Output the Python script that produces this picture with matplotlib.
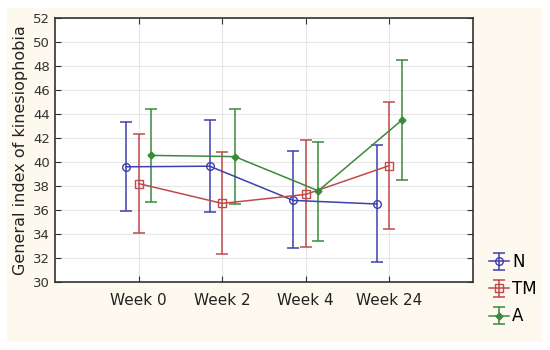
import numpy as np
import matplotlib.pyplot as plt
from matplotlib.patches import Rectangle

weeks = ["Week 0", "Week 2", "Week 4", "Week 24"]
groups = ["N", "TM", "A"]

n_mean = [39.6, 39.65, 36.8, 36.5]
n_low = [35.9, 35.8, 32.8, 31.7]
n_high = [43.3, 43.5, 40.9, 41.4]

tm_mean = [38.2, 36.55, 37.3, 39.7]
tm_low = [34.1, 32.3, 32.9, 34.4]
tm_high = [42.3, 40.8, 41.8, 45.0]

a_mean = [40.55, 40.45, 37.6, 43.5]
a_low = [36.7, 36.5, 33.4, 38.5]
a_high = [44.4, 44.4, 41.7, 48.5]

fig = plt.figure(figsize=(5.5, 3.5), dpi=100)
fig.patch.set_facecolor("white")
# cream panel behind everything
bg = Rectangle((7 / 550, 8 / 350), 535 / 550, 334 / 350,
               transform=fig.transFigure, facecolor="#fdf9ef",
               edgecolor="none", zorder=-10)
fig.add_artist(bg)

ax = fig.add_axes([55 / 550, 68 / 350, 418 / 550, 264 / 350])
ax.set_facecolor("white")

x = np.arange(len(weeks))
series = [
    (n_mean, n_low, n_high, "#3f3fae", "o", "none", 5.5, -0.15),
    (tm_mean, tm_low, tm_high, "#c04a4a", "s", "none", 5.5, 0.0),
    (a_mean, a_low, a_high, "#3b8a3b", "D", "#3b8a3b", 3.5, 0.15),
]

handles = []
for (m, lo, hi, col, mk, fc, ms, off), name in zip(series, groups):
    m = np.array(m)
    err = [m - np.array(lo), np.array(hi) - m]
    h = ax.errorbar(x + off, m, yerr=err, color=col, marker=mk, mfc=fc,
                    mec=col, ms=ms, lw=1.1, elinewidth=1.1, capsize=4,
                    capthick=1.1, label=name, zorder=3)
    handles.append(h)

ax.set_xlim(-1, 4)
ax.set_ylim(30, 52)
ax.set_xticks(x)
ax.set_xticklabels(weeks, fontsize=11)
ax.set_yticks(np.arange(30, 53, 2))
ax.tick_params(axis="y", labelsize=9.5, colors="#333333", direction="in",
               right=True, length=4)
ax.tick_params(axis="x", direction="in", top=True, length=4, colors="#333333",
               labelcolor="#222222", pad=8)
ax.grid(True, color="#e6e6e6", lw=0.8, zorder=0)
for s in ax.spines.values():
    s.set_color("#333333")
    s.set_linewidth(1.2)

ax.set_ylabel("General index of kinesiophobia", fontsize=11.5, color="#222222")

fig.legend(handles=handles, labels=groups, loc="upper left",
           bbox_to_anchor=(474 / 550, 112 / 350), frameon=False, fontsize=12,
           handlelength=1.2, handletextpad=0.2, labelspacing=0.55)

fig.savefig("out.png", dpi=100)
